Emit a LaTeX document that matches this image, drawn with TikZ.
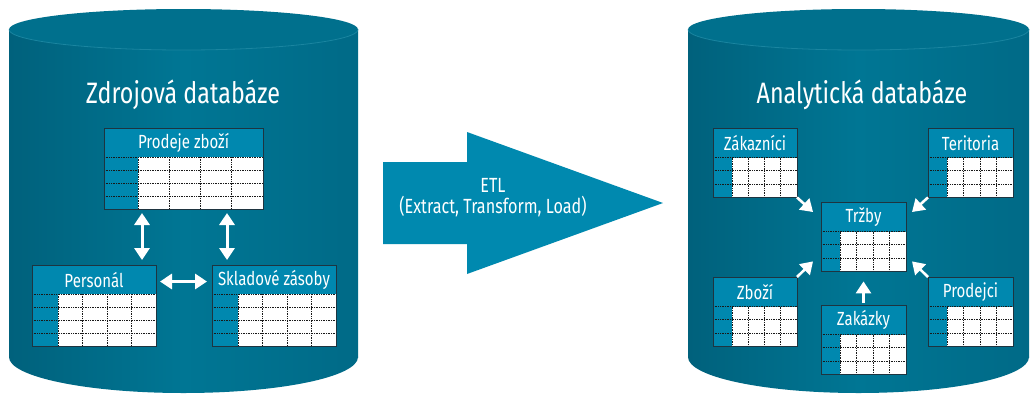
\documentclass[tikz,border=0pt]{standalone}
\usepackage{fontspec}
\setmainfont{Fira Sans}[FakeStretch=0.79]
\usetikzlibrary{arrows.meta,calc}
\definecolor{cylL}{HTML}{00617C}
\definecolor{cylM}{HTML}{007694}
\definecolor{cylR}{HTML}{006A87}
\definecolor{cyltop}{HTML}{00708D}
\definecolor{cylrim}{HTML}{1A85A0}
\definecolor{headc}{HTML}{0088AF}
\definecolor{etlc}{HTML}{0089AF}
\definecolor{bord}{HTML}{1E3440}
\tikzset{
  tabbox/.style={inner sep=0pt, outer sep=0pt, draw=none, anchor=north west},
  tabhead/.style={inner sep=0pt, text=white, font=\fontsize{19}{21}\selectfont},
  gridln/.style={densely dotted, line width=0.7pt, draw=black!90},
  dbl/.style={draw=white, line width=3pt, {Triangle[length=12pt,width=15pt]}-{Triangle[length=12pt,width=15pt]}},
  one/.style={draw=white, line width=2.6pt, -{Triangle[length=12pt,width=15pt]}},
  title/.style={text=white, font=\fontsize{29.5}{31}\selectfont},
  etltext/.style={text=white, align=center, font=\fontsize{20.5}{21}\selectfont}
}
% name, x, y, w, header h, rows, row h, key w, label
\newcommand{\dbtab}[9]{%
  \pgfmathsetmacro\tabh{#5+#6*#7}
  \node[tabbox, minimum width=#4pt, minimum height=\tabh pt] (#1) at (#2,#3) {};
  \fill[headc] (#2,#3) rectangle ({#2+#4},{#3+\tabh});
  \fill[white] ({#2+#8},{#3+#5}) rectangle ({#2+#4},{#3+\tabh});
  \foreach \j in {1,...,#6}{
    \draw[gridln] (#2,{#3+#5+(\j-1)*#7}) -- ({#2+#4},{#3+#5+(\j-1)*#7});
  }
  \foreach \i in {0,1,2,3}{
    \draw[gridln] ({#2+#8+\i*(#4-#8)/4},{#3+#5}) -- ({#2+#8+\i*(#4-#8)/4},{#3+\tabh});
  }
  \draw[bord, line width=0.9pt] (#2,#3) rectangle ({#2+#4},{#3+\tabh});
  \node[tabhead] (#1-h) at ({#2+#4/2},{#3+#5/2}) {#9};
}
% cylinder: left x, right x, top center y, top ry, bottom center y, bottom ry
\newcommand{\cyl}[6]{%
  \pgfmathsetmacro\cx{(#1+#2)/2}
  \pgfmathsetmacro\rx{(#2-#1)/2}
  \shade[left color=cylL, right color=cylR, middle color=cylM]
    (\cx,#5) ellipse [x radius=\rx, y radius=#6];
  \shade[left color=cylL, right color=cylR, middle color=cylM]
    (#1,#3) rectangle (#2,#5);
  \fill[cyltop] (\cx,#3) ellipse [x radius=\rx, y radius=#4];
  \draw[cylrim, line width=0.8pt] (#1,#3) arc [start angle=180, end angle=0, x radius=\rx, y radius=#4];
}
\begin{document}
\begin{tikzpicture}[x=1pt,y=-1pt]
\useasboundingbox[fill=white] (0,0) rectangle (1030,394);
% cylinders
\cyl{9}{358}{29.5}{20.5}{357}{36}
\cyl{688}{1029}{29.5}{20.5}{357}{36}
\node[title] (t1) at (183,95) {Zdrojová databáze};
\node[title] (t2) at (862,95) {Analytická databáze};
% left tables
\dbtab{pz}{104}{128}{159}{29}{4}{13}{34}{Prodeje zboží}
\dbtab{pe}{32}{265}{124}{29}{4}{13}{26}{Personál}
\dbtab{ss}{212}{265}{124}{29}{4}{13}{26}{Skladové zásoby}
\draw[dbl, shorten <=4pt, shorten >=5pt] ([xshift=38pt]pz.south west) -- ([xshift=38pt]pz.south west |- pe.north);
\draw[dbl, shorten <=4pt, shorten >=5pt] ([xshift=123pt]pz.south west) -- ([xshift=123pt]pz.south west |- ss.north);
\draw[dbl, shorten <=4pt, shorten >=5pt] ([yshift=-2pt]pe.east |- pe-h) -- ([yshift=-2pt]ss.west |- ss-h);
% ETL arrow
\fill[etlc] (383,162) -- (467,162) -- (467,132) -- (663,203) -- (467,274) -- (467,244) -- (383,244) -- cycle;
\node[etltext] (etl) at (493,198) {ETL\\(Extract, Transform, Load)};
% right tables
\dbtab{zk}{713}{128}{84}{29.5}{3}{13.3}{19}{Zákazníci}
\dbtab{te}{928}{128}{85}{29.5}{3}{13.3}{19}{Teritoria}
\dbtab{tr}{821}{202}{85}{29.5}{3}{13.3}{19}{Tržby}
\dbtab{zb}{713}{277}{84}{29.5}{3}{13.3}{19}{Zboží}
\dbtab{pd}{928}{277}{85}{29.5}{3}{13.3}{19}{Prodejci}
\dbtab{za}{821}{305}{85}{29.5}{3}{13.3}{19}{Zakázky}
\draw[one] (zk.south east) -- ([shift={(-8,10)}]tr.north west);
\draw[one] (te.south west) -- ([shift={(6,10)}]tr.north east);
\draw[one] (zb.north east) -- ([shift={(-8,-10)}]tr.south west);
\draw[one] (pd.north west) -- ([shift={(6,-10)}]tr.south east);
\draw[one, shorten <=2pt] (za.north) -- ([shift={(0,10)}]tr.south);
\end{tikzpicture}
\end{document}
